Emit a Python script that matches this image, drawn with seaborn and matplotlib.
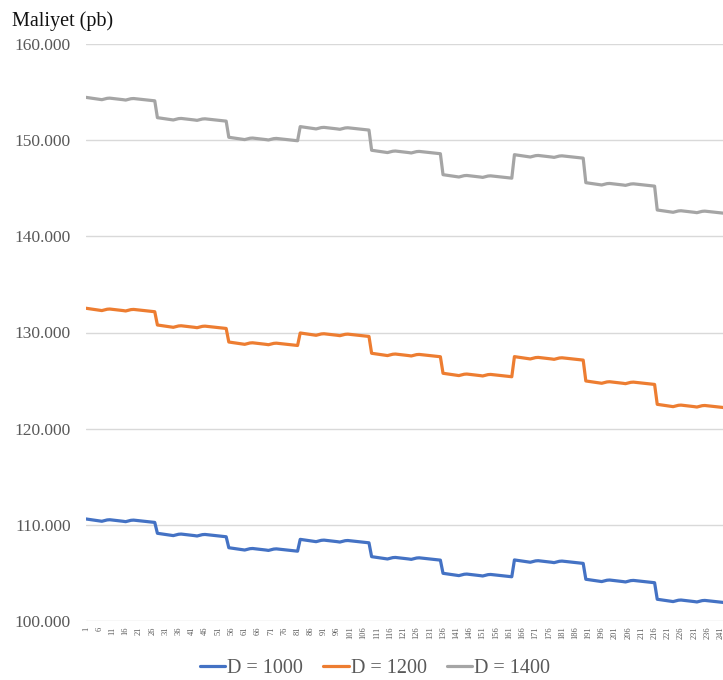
import matplotlib
matplotlib.use("Agg")
import matplotlib.pyplot as plt
from matplotlib.lines import Line2D
from matplotlib.ticker import FuncFormatter
import pandas as pd
import seaborn as sns

# Scenario names and line colours
series_names = ["D = 1000", "D = 1200", "D = 1400"]
series_colors = ["#4472C4", "#ED7D31", "#A5A5A5"]

# Cost at the first point of each block of 27 scenarios (pb)
block_start_1000 = [110610, 109120, 107620, 108490, 106690, 104960, 106350, 104340, 102260]
block_start_1200 = [132520, 130780, 129010, 129950, 127840, 125760, 127490, 124960, 122530]
block_start_1400 = [154450, 152340, 150300, 151410, 148950, 146410, 148490, 145580, 142740]

# Change in cost inside a block of 27 scenarios, relative to its first point (pb)
block_shape = [0, -40, -80, -120, -160, -200, -240, -170, -100,
               -80, -110, -140, -170, -200, -240, -280, -210, -140,
               -120, -150, -180, -210, -240, -270, -300, -330, -360]

y_ticks = [100000, 110000, 120000, 130000, 140000, 150000, 160000]
x_ticks = list(range(1, 244, 5))

sns.set_theme(style="white")
plt.rcParams["font.family"] = ["Liberation Serif", "DejaVu Serif"]

rows = []
for name, starts in zip(series_names, [block_start_1000, block_start_1200, block_start_1400]):
    for b, start in enumerate(starts):
        for k, delta in enumerate(block_shape):
            rows.append({"Senaryo": name, "No": b * len(block_shape) + k + 1,
                         "Maliyet": start + delta})
df = pd.DataFrame(rows)

fig = plt.figure(figsize=(7.23, 6.8), dpi=100)
ax = fig.add_axes([86 / 723, 59 / 680, 640 / 723, 577 / 680])

sns.lineplot(data=df, x="No", y="Maliyet", hue="Senaryo",
             palette=dict(zip(series_names, series_colors)),
             linewidth=2.3, ax=ax, legend=False)

ax.set_xlim(1, 243)
ax.set_ylim(100000, 160000)
ax.set_yticks(y_ticks)
ax.yaxis.set_major_formatter(FuncFormatter(lambda v, p: f"{v:,.0f}".replace(",", ".")))
ax.set_xticks(x_ticks)
ax.set_xticklabels([str(t) for t in x_ticks], rotation=90, fontsize=6, color="#595959")
ax.tick_params(axis="y", length=0, pad=11, labelsize=12.5, labelcolor="#595959")
ax.tick_params(axis="x", length=0, pad=4)
ax.set_xlabel("")
ax.set_ylabel("")
ax.yaxis.grid(True, color="#d9d9d9", linewidth=1)
ax.xaxis.grid(False)
for s in ax.spines.values():
    s.set_visible(False)

fig.text(12 / 723, 1 - 26 / 680, "Maliyet (pb)", fontsize=14.5, color="#111111",
         ha="left", va="baseline")

handles = [Line2D([], [], color=c, linewidth=2.3) for c in series_colors]
fig.legend(handles, series_names, loc="center", bbox_to_anchor=(375 / 723, 1 - 668 / 680),
           ncol=3, frameon=False, fontsize=14.5, handlelength=1.25, handletextpad=0.1,
           columnspacing=1.0, labelcolor="#595959")

fig.savefig("out.png", dpi=100)
